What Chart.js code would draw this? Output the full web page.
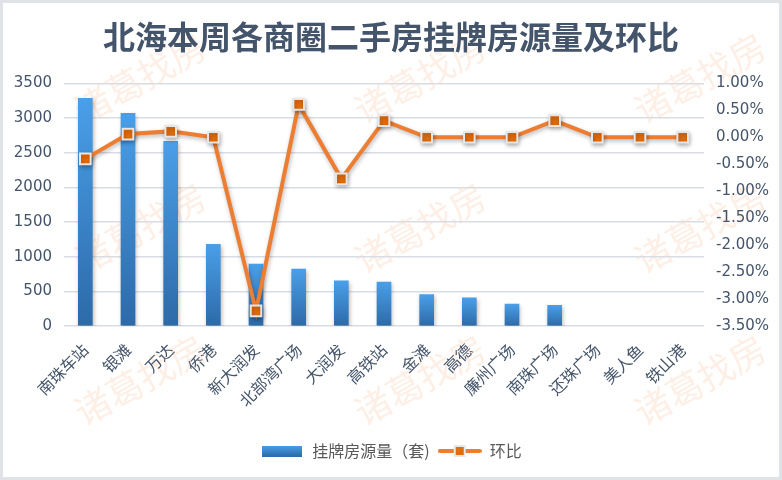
<!DOCTYPE html>
<html>
<head>
<meta charset="utf-8">
<script src="https://cdn.jsdelivr.net/npm/chart.js@4.4.0/dist/chart.umd.min.js"></script>
<style>
    html, body { margin: 0; padding: 0; background: #fff; }
    #wrap { width: 782px; height: 480px; position: relative; }
</style>
</head>
<body>
<div id="wrap"><canvas id="chart"></canvas></div>
<script>
const areas = ['南珠车站', '银滩', '万达', '侨港', '新大润发', '北部湾广场', '大润发', '高铁站',
    '金滩', '高德', '廉州广场', '南珠广场', '还珠广场', '美人鱼', '铁山港'];
const listings = [3285, 3070, 2665, 1180, 895, 820, 650, 635, 455, 405, 315, 300, 0, 0, 0];
const changePct = [-0.40, 0.06, 0.11, 0.00, -3.22, 0.61, -0.77, 0.31, 0.00, 0.00, 0.00, 0.31, 0.00, 0.00, 0.00];
const seriesNames = ['挂牌房源量（套)', '环比'];
const chartTitle = '北海本周各商圈二手房挂牌房源量及环比';

const cjk = '"Noto Sans CJK SC", "Noto Sans", sans-serif';
const slate = '#44546A';

// vertical gradient for each bar, light on top and darker at the base
function barFill(context) {
    const chart = context.chart;
    const y = chart.scales && chart.scales.y;
    if (context.type === 'data' && !context.raw) return 'rgba(0,0,0,0)';
    if (!y || context.type !== 'data') return '#3d8bd6';
    const top = y.getPixelForValue(context.raw);
    const bottom = y.getPixelForValue(0);
    if (!isFinite(top) || !isFinite(bottom)) return '#3d8bd6';
    const g = chart.ctx.createLinearGradient(0, top, 0, bottom);
    g.addColorStop(0, '#4a9fe8');
    g.addColorStop(1, '#2d6aa8');
    return g;
}

function barIcon() {
    const c = document.createElement('canvas');
    c.width = 40; c.height = 11;
    const g = c.getContext('2d');
    const gr = g.createLinearGradient(0, 0, 0, 11);
    gr.addColorStop(0, '#4a9fe8');
    gr.addColorStop(1, '#2d6aa8');
    g.fillStyle = gr;
    g.fillRect(0, 0, 40, 11);
    return c;
}

function lineIcon() {
    const c = document.createElement('canvas');
    c.width = 44; c.height = 14;
    const g = c.getContext('2d');
    g.strokeStyle = '#ED7D31';
    g.lineWidth = 4;
    g.lineCap = 'round';
    g.beginPath(); g.moveTo(2, 7); g.lineTo(42, 7); g.stroke();
    g.fillStyle = '#E8E8E8';
    g.fillRect(16, 1, 12, 12);
    g.fillStyle = '#E46C0A';
    g.fillRect(18, 3, 8, 8);
    return c;
}

// white card, light frame and the faint watermark behind everything
const backdrop = {
    id: 'backdrop',
    beforeDraw(chart) {
        const c = chart.ctx, w = chart.width, h = chart.height;
        c.save();
        c.fillStyle = '#fff';
        c.fillRect(0, 0, w, h);
        c.fillStyle = 'rgba(250, 190, 150, 0.24)';
        c.font = '36px ' + cjk;
        c.textAlign = 'center';
        c.textBaseline = 'middle';
        [140, 420, 700].forEach(x => {
            [78, 228, 380].forEach(y => {
                c.save();
                c.translate(x, y);
                c.rotate(-Math.PI / 6.2);
                c.fillText('诸葛找房', 0, 0);
                c.restore();
            });
        });
        c.strokeStyle = '#dfe3e8';
        c.lineWidth = 3;
        c.strokeRect(1.5, 1.5, w - 3, h - 3);
        c.restore();
    }
};

const shadow = {
    id: 'shadow',
    beforeDatasetDraw(chart) {
        const c = chart.ctx;
        c.save();
        c.shadowColor = 'rgba(0, 0, 0, 0.28)';
        c.shadowBlur = 4;
        c.shadowOffsetX = 1;
        c.shadowOffsetY = 2;
    },
    afterDatasetDraw(chart) {
        chart.ctx.restore();
    }
};

const icons = [barIcon(), lineIcon()];

new Chart(document.getElementById('chart').getContext('2d'), {
    data: {
        labels: areas,
        datasets: [{
            type: 'bar',
            label: seriesNames[0],
            data: listings,
            yAxisID: 'y',
            backgroundColor: barFill,
            barThickness: 14,
            order: 1
        }, {
            type: 'line',
            label: seriesNames[1],
            data: changePct,
            yAxisID: 'y1',
            borderColor: '#ED7D31',
            borderWidth: 4,
            pointStyle: 'rect',
            pointRadius: 7.5,
            pointHoverRadius: 7.5,
            pointBackgroundColor: '#E46C0A',
            pointBorderColor: '#E6E6E6',
            pointBorderWidth: 2,
            tension: 0,
            order: 0
        }]
    },
    options: {
        responsive: true,
        maintainAspectRatio: false,
        devicePixelRatio: 1,
        animation: false,
        layout: { padding: { left: 0, right: 0, top: 0, bottom: 11 } },
        plugins: {
            title: {
                display: true,
                text: chartTitle,
                color: slate,
                font: { family: cjk, size: 32, weight: 'bold' },
                padding: { top: 18, bottom: 27 }
            },
            legend: {
                position: 'bottom',
                labels: {
                    usePointStyle: true,
                    pointStyleWidth: 44,
                    color: '#595959',
                    font: { family: cjk, size: 16 },
                    padding: 8,
                    generateLabels(chart) {
                        const items = Chart.defaults.plugins.legend.labels.generateLabels(chart);
                        items.sort((a, b) => a.datasetIndex - b.datasetIndex);
                        items.forEach(it => { it.pointStyle = icons[it.datasetIndex]; });
                        return items;
                    }
                }
            },
            tooltip: { enabled: false }
        },
        scales: {
            x: {
                grid: { display: false },
                border: { display: false },
                ticks: {
                    color: slate,
                    font: { family: cjk, size: 16 },
                    minRotation: 45,
                    maxRotation: 45,
                    autoSkip: false,
                    padding: 6
                },
                afterFit(s) { s.height = 109; }
            },
            y: {
                position: 'left',
                min: 0,
                max: 3500,
                ticks: {
                    stepSize: 500,
                    color: slate,
                    font: { family: 'DejaVu Sans', size: 15 },
                    padding: 12,
                    callback: v => String(v)
                },
                grid: { color: '#d9dde3', lineWidth: 1.5, drawTicks: false },
                border: { display: false },
                afterFit(s) { s.width = 64; }
            },
            y1: {
                position: 'right',
                min: -3.5,
                max: 1,
                ticks: {
                    stepSize: 0.5,
                    color: slate,
                    font: { family: 'DejaVu Sans', size: 15 },
                    padding: 12,
                    callback: v => v.toFixed(2) + '%'
                },
                grid: { display: false, drawTicks: false },
                border: { display: false },
                afterFit(s) { s.width = 78; }
            }
        }
    },
    plugins: [backdrop, shadow]
});
</script>
</body>
</html>
